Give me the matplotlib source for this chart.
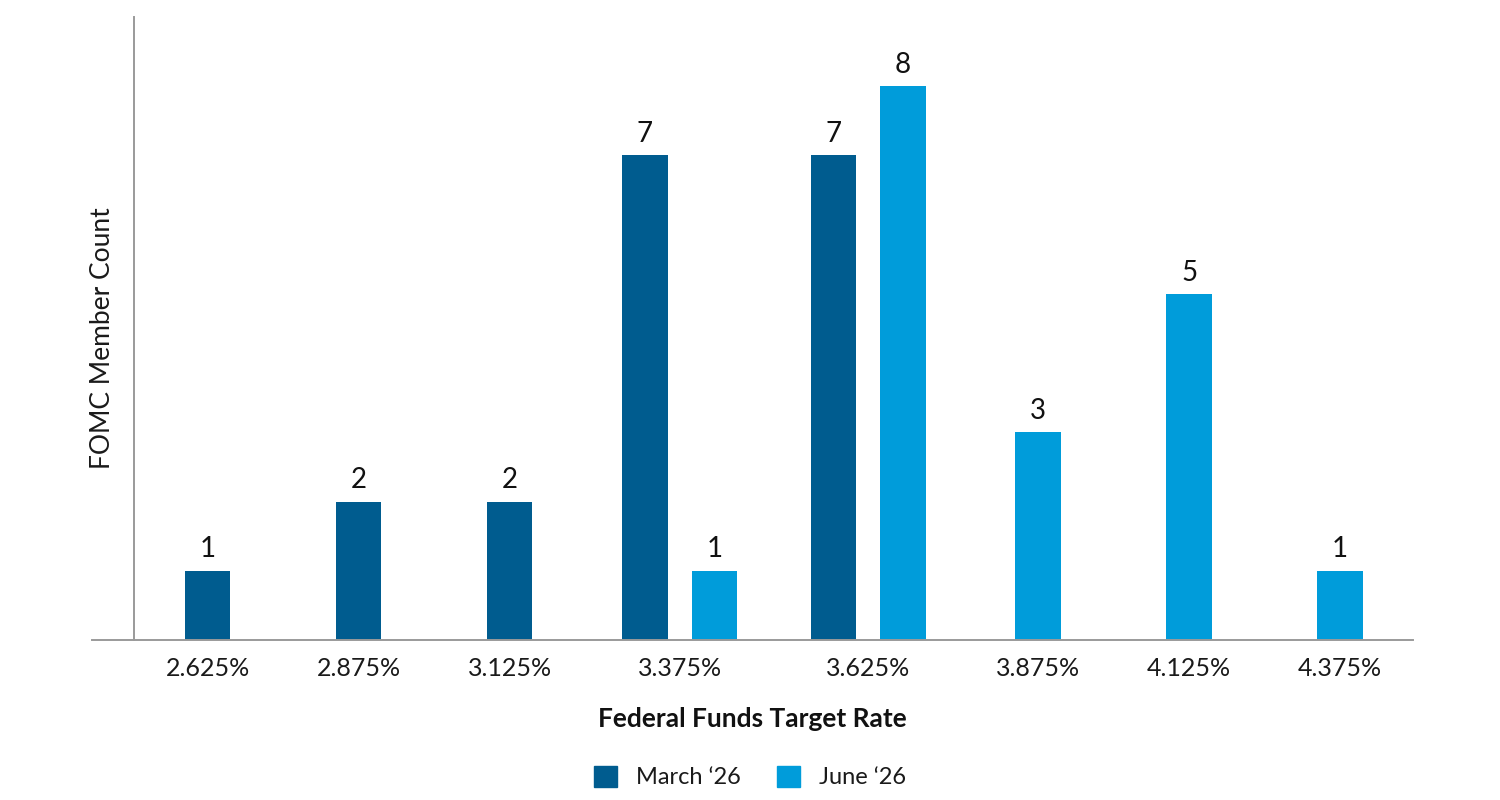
import numpy as np
import matplotlib.pyplot as plt
from matplotlib.patches import Patch

plt.rcParams['font.family'] = ['Lato', 'DejaVu Sans']

rates = ['2.625%', '2.875%', '3.125%', '3.375%', '3.625%', '3.875%', '4.125%', '4.375%']
march = [1, 2, 2, 7, 7, 0, 0, 0]
june = [0, 0, 0, 1, 8, 3, 5, 1]

c_march = '#005C8F'
c_june = '#009CDA'
grey = '#9a9a9a'
txt = '#1a1a1a'

# groups holding two bars get a slightly wider slot
slot = np.array([1.25 if (m and j) else 1.0 for m, j in zip(march, june)])
centers = np.cumsum(slot) - slot / 2
bw = 0.30
off = 0.23

fig = plt.figure(figsize=(15, 8), dpi=100)
ax = fig.add_axes([92 / 1500, 160 / 800, 1321 / 1500, 623 / 800])

for i, (m, j) in enumerate(zip(march, june)):
    if m and j:
        xs = [(centers[i] - off, m, c_march), (centers[i] + off, j, c_june)]
    elif m:
        xs = [(centers[i], m, c_march)]
    else:
        xs = [(centers[i], j, c_june)]
    for x, v, c in xs:
        ax.bar(x, v, width=bw, color=c, zorder=2)
        ax.text(x, v + 0.12, str(v), ha='center', va='bottom', fontsize=20, color='#111111')

ax.set_xlim(-0.267, 8.483)
ax.set_ylim(0, 9.0)

for s in ['top', 'right']:
    ax.spines[s].set_visible(False)
ax.spines['bottom'].set_color(grey)
ax.spines['bottom'].set_linewidth(1.4)
ax.spines['left'].set_position(('data', 0.013))
ax.spines['left'].set_color(grey)
ax.spines['left'].set_linewidth(1.4)

ax.set_yticks([])
ax.set_xticks(centers)
ax.set_xticklabels(rates, fontsize=18, color=txt)
ax.tick_params(axis='x', length=0, pad=12)

ax.set_xlabel('Federal Funds Target Rate', fontsize=19, fontweight='bold', labelpad=20, color='#111111')
fig.text(103 / 1500, 1 - 338 / 800, 'FOMC Member Count', rotation=90, fontsize=19,
         color=txt, ha='center', va='center')

handles = [Patch(color=c_march, label='March \u201826'), Patch(color=c_june, label='June \u201826')]
fig.legend(handles=handles, loc='center', bbox_to_anchor=(750 / 1500, 1 - 777 / 800), ncol=2,
           frameon=False, handlelength=1.0, handleheight=1.0, columnspacing=1.5,
           handletextpad=0.8, prop={'size': 17}, labelcolor=txt)

fig.savefig('out.png', dpi=100)
